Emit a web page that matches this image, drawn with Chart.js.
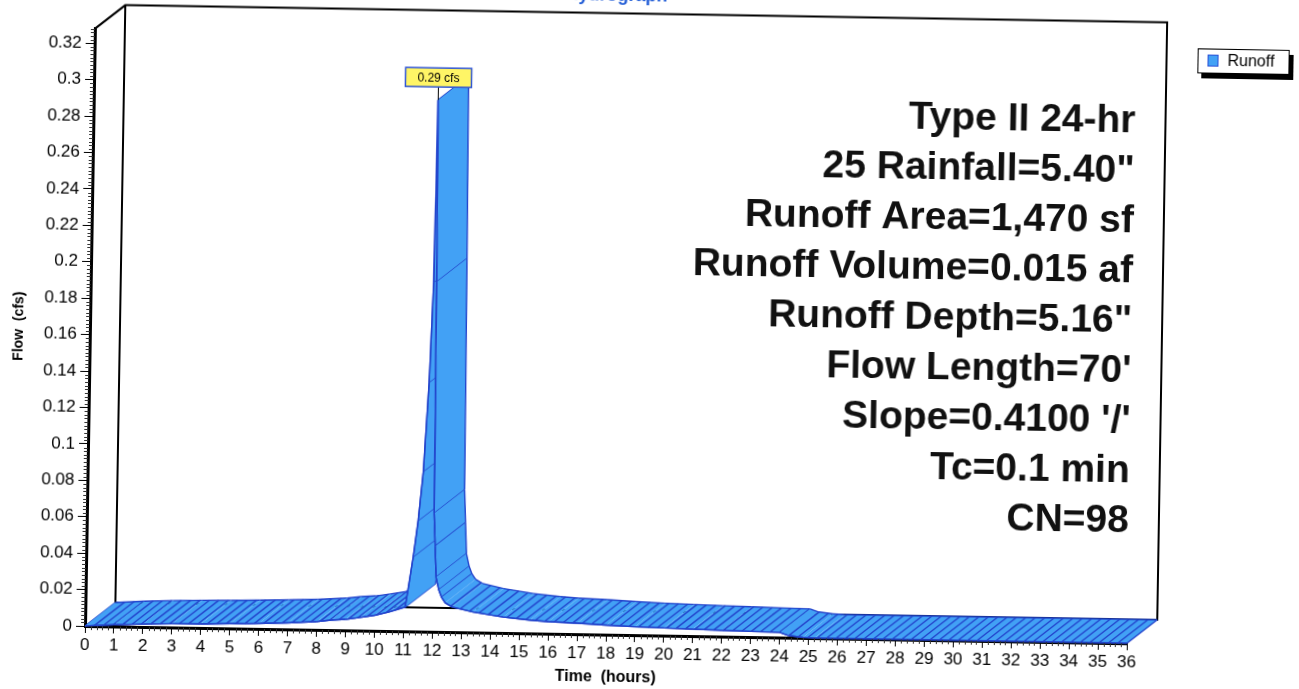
<!DOCTYPE html>
<html>
<head>
<meta charset="utf-8">
<title>Hydrograph</title>
<script src="https://cdn.jsdelivr.net/npm/chart.js@4.4.1/dist/chart.umd.min.js"></script>
<style>
html, body { margin: 0; padding: 0; background: #fff; overflow: hidden; width: 1299px; height: 689px; }
#wrap { position: absolute; left: 0; top: -30px; width: 1299px; height: 719px; transform: rotate(0.95deg); transform-origin: 85px 656px; }
#legend { position: absolute; left: 1188px; top: 60px; width: 90px; height: 23px; border: 1px solid #000; background: #fff; box-shadow: 4px 5px 0 #000; font: 16px Arial, 'Liberation Sans', sans-serif; color: #000; }
#legend .sw { position: absolute; left: 9px; top: 5px; width: 9px; height: 10px; background: #42a1f5; border: 1px solid #2a4fd6; }
#legend .lb { position: absolute; left: 29px; top: 2px; }
</style>
</head>
<body>
<div id="wrap">
  <canvas id="hydro" width="1299" height="719"></canvas>
  <div id="legend"><span class="sw"></span><span class="lb">Runoff</span></div>
</div>
<script>
// runoff hydrograph
const times = [0, 1, 2, 3, 4, 5, 6, 7, 8, 8.5, 9, 9.5, 10, 10.5, 11.05,
  11.3, 11.45, 11.6, 11.75, 11.85, 11.9, 11.95, 12, 12.05, 12.1, 12.2, 12.3, 12.43, 12.67,
  13.4, 14.44, 15.37, 16, 17, 18, 19, 20, 21, 22, 23, 24, 24.3, 24.8, 25.2, 36];
const flows = [0, 0.001, 0.0016, 0.002, 0.0022, 0.0026, 0.003, 0.0036, 0.0045, 0.0055, 0.006, 0.0072, 0.0085, 0.0105, 0.0133,
  0.041, 0.061, 0.088, 0.137, 0.192, 0.292, 0.192, 0.065, 0.047, 0.03, 0.023, 0.019, 0.016, 0.0138,
  0.0112, 0.0087, 0.0073, 0.0066, 0.006, 0.0052, 0.0046, 0.0042, 0.0038, 0.0034, 0.0031, 0.0028, 0.0012, 0.0003, 0, 0];
const flowTicks = [0, 0.02, 0.04, 0.06, 0.08, 0.1, 0.12, 0.14, 0.16, 0.18, 0.2, 0.22, 0.24, 0.26, 0.28, 0.3, 0.32];
const timeTicks = [0, 1, 2, 3, 4, 5, 6, 7, 8, 9, 10, 11, 12, 13, 14, 15, 16, 17, 18, 19, 20, 21, 22, 23, 24, 25, 26, 27, 28, 29, 30, 31, 32, 33, 34, 35, 36];
const infoLines = ['Type II 24-hr', '25 Rainfall=5.40"', 'Runoff Area=1,470 sf', 'Runoff Volume=0.015 af',
  'Runoff Depth=5.16"', "Flow Length=70'", "Slope=0.4100 '/'", 'Tc=0.1 min', 'CN=98'];

const FILL = '#42a1f5';
const EDGE = '#2344cc';
const DEPTH_X = 30, DEPTH_Y = -24;   // 3d offset of the back plane
const HATCH = 9.4;

Chart.defaults.font.family = "Arial, 'Liberation Sans', sans-serif";
Chart.defaults.color = '#000';

// back wall and the 3d ribbon under the line
const ribbonPlugin = {
  id: 'ribbon',
  beforeDatasetsDraw(chart) {
    const {ctx, chartArea: a, scales: {x, y}} = chart;
    const y0 = y.getPixelForValue(0);
    ctx.save();
    ctx.strokeStyle = '#000';
    ctx.lineWidth = 2;
    ctx.beginPath();
    ctx.moveTo(a.left, a.top);
    ctx.lineTo(a.left + DEPTH_X, a.top + DEPTH_Y);
    ctx.lineTo(a.right + DEPTH_X, a.top + DEPTH_Y);
    ctx.lineTo(a.right + DEPTH_X, y0 + DEPTH_Y);
    ctx.lineTo(a.left + DEPTH_X, y0 + DEPTH_Y);
    ctx.lineTo(a.left + DEPTH_X, a.top + DEPTH_Y);
    ctx.stroke();

    const pts = times.map((t, i) => ({x: x.getPixelForValue(t), y: y.getPixelForValue(flows[i])}));
    ctx.lineWidth = 1.4;
    ctx.strokeStyle = EDGE;
    ctx.fillStyle = FILL;
    const depth = (px, py) => {
      ctx.beginPath();
      ctx.moveTo(px, py);
      ctx.lineTo(px + DEPTH_X, py + DEPTH_Y);
      ctx.stroke();
    };
    depth(pts[0].x, pts[0].y);
    let last = pts[0];
    for (let i = 0; i < pts.length - 1; i++) {
      const p = pts[i], q = pts[i + 1];
      ctx.beginPath();
      ctx.moveTo(p.x, p.y);
      ctx.lineTo(q.x, q.y);
      ctx.lineTo(q.x + DEPTH_X, q.y + DEPTH_Y);
      ctx.lineTo(p.x + DEPTH_X, p.y + DEPTH_Y);
      ctx.closePath();
      ctx.fill();
      ctx.beginPath();
      ctx.moveTo(p.x, p.y);
      ctx.lineTo(q.x, q.y);
      ctx.moveTo(p.x + DEPTH_X, p.y + DEPTH_Y);
      ctx.lineTo(q.x + DEPTH_X, q.y + DEPTH_Y);
      ctx.stroke();
      const dx = q.x - p.x, dy = q.y - p.y;
      if (Math.abs(dy) < 2 * dx) {
        if (last.x + HATCH < p.x) last = {x: p.x - HATCH, y: p.y};
        while (last.x + HATCH < q.x) {
          const hx = last.x + HATCH;
          const f = (hx - p.x) / dx;
          last = {x: hx, y: p.y + f * dy};
          depth(last.x, last.y);
        }
      } else if (Math.hypot(q.x - last.x, q.y - last.y) > 5) {
        last = q;
        depth(q.x, q.y);
      }
    }
    const e = pts[pts.length - 1];
    depth(e.x, e.y);
    ctx.restore();
  }
};

// peak flag and the storm summary
const notesPlugin = {
  id: 'notes',
  afterDatasetsDraw(chart) {
    const {ctx, chartArea: a, scales: {x, y}} = chart;
    let k = 0;
    flows.forEach((v, i) => { if (v > flows[k]) k = i; });
    const px = x.getPixelForValue(times[k]);
    const py = y.getPixelForValue(flows[k]);
    const text = flows[k].toFixed(2) + ' cfs';
    ctx.save();
    ctx.strokeStyle = '#000';
    ctx.lineWidth = 1;
    ctx.beginPath();
    ctx.moveTo(px, py);
    ctx.lineTo(px, py - 13);
    ctx.stroke();
    ctx.font = "12px Arial, 'Liberation Sans', sans-serif";
    const w = ctx.measureText(text).width + 24, h = 19;
    ctx.fillStyle = '#fff566';
    ctx.fillRect(px - w / 2, py - 13 - h, w, h);
    ctx.strokeStyle = '#2f55d4';
    ctx.lineWidth = 1.5;
    ctx.strokeRect(px - w / 2, py - 13 - h, w, h);
    ctx.fillStyle = '#000';
    ctx.textAlign = 'center';
    ctx.textBaseline = 'middle';
    ctx.fillText(text, px, py - 13 - h / 2 + 1);

    ctx.font = "bold 39px Arial, 'Liberation Sans', sans-serif";
    ctx.textAlign = 'right';
    ctx.textBaseline = 'alphabetic';
    ctx.fillStyle = '#111';
    infoLines.forEach((line, i) => ctx.fillText(line, a.right, a.top + 86.6 + i * 50));
    ctx.restore();
  }
};

// small ticks between the labelled ones
const minorTicks = {
  id: 'minorTicks',
  afterDraw(chart) {
    const {ctx, chartArea: a, scales: {x, y}} = chart;
    ctx.save();
    ctx.strokeStyle = '#333';
    ctx.lineWidth = 1;
    ctx.beginPath();
    for (let k = 1; k * 0.002 <= y.max; k++) {
      if (k % 10 === 0) continue;
      const py = Math.round(y.getPixelForValue(k * 0.002)) + 0.5;
      ctx.moveTo(a.left - 4, py);
      ctx.lineTo(a.left, py);
    }
    for (let k = 1; k * 0.2 < x.max; k++) {
      if (k % 5 === 0) continue;
      const px = Math.round(x.getPixelForValue(k * 0.2)) + 0.5;
      ctx.moveTo(px, a.bottom);
      ctx.lineTo(px, a.bottom + 4);
    }
    ctx.stroke();
    ctx.restore();
  }
};

new Chart(document.getElementById('hydro'), {
  type: 'line',
  data: {
    datasets: [{
      label: 'Runoff',
      data: times.map((t, i) => ({x: t, y: flows[i]})),
      borderColor: EDGE,
      backgroundColor: FILL,
      borderWidth: 1.4,
      pointRadius: 0,
      tension: 0,
      fill: false
    }]
  },
  options: {
    responsive: false,
    animation: false,
    layout: {padding: {left: 0, right: 172, top: 0, bottom: 0}},
    plugins: {
      legend: {display: false},
      tooltip: {enabled: false},
      title: {
        display: true,
        text: 'Hydrograph',
        fullSize: false,
        color: '#1f5bd6',
        font: {size: 18, weight: 'bold'},
        padding: {top: 6, bottom: 31}
      }
    },
    scales: {
      x: {
        type: 'linear',
        min: 0,
        max: 36,
        afterBuildTicks: s => { s.ticks = timeTicks.map(v => ({value: v})); },
        afterFit: s => { s.height = 63; },
        ticks: {callback: v => String(v), font: {size: 17}, color: '#000', padding: 2, maxRotation: 0, autoSkip: false},
        grid: {drawOnChartArea: false, drawTicks: true, tickLength: 7, color: '#000'},
        border: {display: true, color: '#000', width: 3},
        title: {display: true, text: 'Time  (hours)', font: {size: 16, weight: 'bold'}, color: '#000', padding: {top: 0, bottom: 11}}
      },
      y: {
        type: 'linear',
        min: 0,
        max: 0.328,
        afterBuildTicks: s => { s.ticks = flowTicks.map(v => ({value: v})); },
        afterFit: s => { s.width = 85; },
        ticks: {callback: v => String(v), font: {size: 17}, color: '#000', padding: 4, autoSkip: false},
        grid: {drawOnChartArea: false, drawTicks: true, tickLength: 9, color: '#000'},
        border: {display: true, color: '#000', width: 3},
        title: {display: true, text: 'Flow  (cfs)', font: {size: 14, weight: 'bold'}, color: '#000', padding: {top: 6, bottom: 0}}
      }
    }
  },
  plugins: [ribbonPlugin, notesPlugin, minorTicks]
});
</script>
</body>
</html>
